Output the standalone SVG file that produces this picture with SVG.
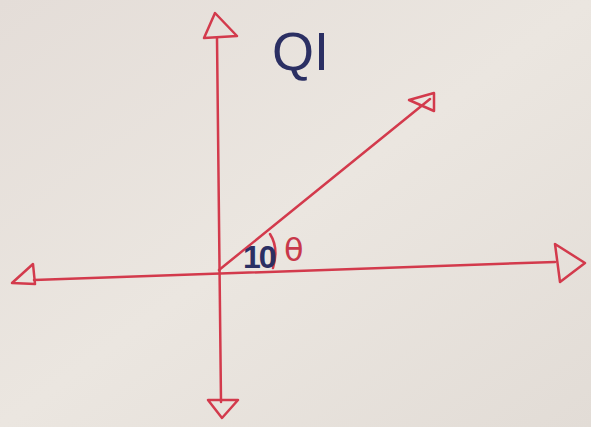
<svg xmlns="http://www.w3.org/2000/svg" width="591" height="427" viewBox="0 0 591 427">
<style>
.ax{stroke:#d33a4c;stroke-width:2.5;fill:none;stroke-linecap:round;stroke-linejoin:round}
.blue{font-family:"Liberation Sans",sans-serif;fill:#2b2f63}
.red{font-family:"DejaVu Sans",sans-serif;fill:#c8384a}
</style>
<defs>
<linearGradient id="bg" x1="0" y1="0" x2="1" y2="1">
<stop offset="0" stop-color="#e4ddd8"/>
<stop offset="0.5" stop-color="#ebe6e0"/>
<stop offset="1" stop-color="#e2dcd6"/>
</linearGradient>
</defs>
<rect width="591" height="427" fill="url(#bg)"/>
<g id="connectors">
<path class="ax" d="M217 38 L221 402"/>
<path class="ax" d="M34 280 L555 262"/>
<path class="ax" d="M219 270 L430 99"/>
</g>
<g id="arrow-up"><path class="ax" d="M215 13 L204 38 L237 36 Z"/></g>
<g id="arrow-down"><path class="ax" d="M222 418 L208 400 L238 400 Z"/></g>
<g id="arrow-left"><path class="ax" d="M12 283 L33 264 L35 284 Z"/></g>
<g id="arrow-right"><path class="ax" d="M585 263 L555 244 L560 282 Z"/></g>
<g id="arrow-ray"><path class="ax" d="M409 100 L434 93 L434 111 Z"/></g>
<g id="title"><text class="blue" x="272" y="70" font-size="54">QI</text></g>
<g id="angle">
<path class="ax" d="M270 234 Q279 248 273 268" stroke-width="2"/>
<text class="blue" x="243" y="268" font-size="32" font-weight="bold" letter-spacing="-2">10</text>
<text class="red" x="284" y="261" font-size="32">θ</text>
</g>
</svg>
